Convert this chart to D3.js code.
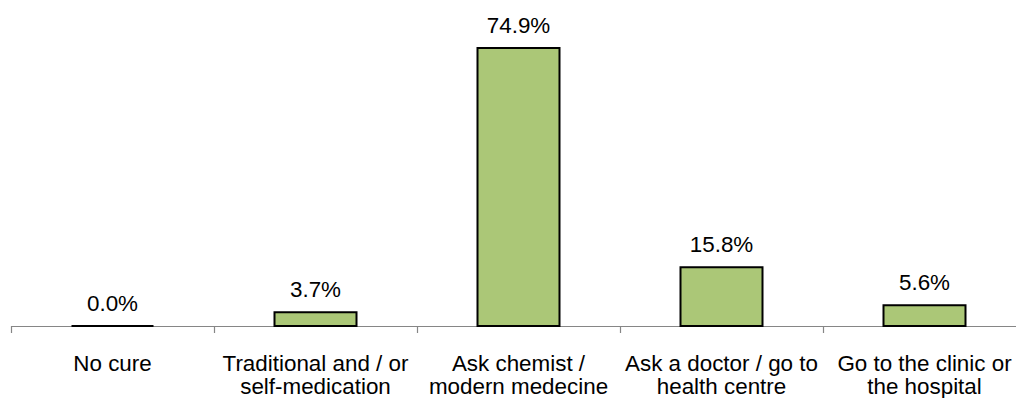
<!DOCTYPE html>
<html>
<head>
<meta charset="utf-8">
<script src="https://cdn.jsdelivr.net/npm/d3@7"></script>
<style>
  html, body { margin: 0; padding: 0; background: #fff; }
  svg { display: block; }
  text { font-family: "Liberation Sans", Arial, sans-serif; fill: #000; }
</style>
</head>
<body>
<svg id="chart" width="1016" height="398"></svg>
<script>
// Treatment choices and share of respondents (%)
const categories = [
  ["No cure"],
  ["Traditional and / or", "self-medication"],
  ["Ask chemist /", "modern medecine"],
  ["Ask a doctor / go to", "health centre"],
  ["Go to the clinic or", "the hospital"]
];
const shares = [0.0, 3.7, 74.9, 15.8, 5.6];
const valueLabels = ["0.0%", "3.7%", "74.9%", "15.8%", "5.6%"];

const svg = d3.select("#chart");
const baseY = 326;
const fontSize = 22.4;

const x = d3.scaleBand()
  .domain(d3.range(categories.length))
  .range([11, 11 + 203 * categories.length])
  .paddingInner(0)
  .paddingOuter(0);

const barW = 82;

const y = d3.scaleLinear()
  .domain([0, 80])
  .range([baseY, baseY - 80 * 3.712]);

// Category axis: baseline with tick marks between categories
const axisG = svg.append("g");
axisG.append("line")
  .attr("x1", x.range()[0]).attr("x2", x.range()[1])
  .attr("y1", baseY + 0.5).attr("y2", baseY + 0.5)
  .attr("stroke", "#868686").attr("stroke-width", 1.2);
const tickXs = d3.range(categories.length + 1).map(i => x.range()[0] + i * x.bandwidth());
axisG.selectAll("line.tick").data(tickXs).join("line")
  .attr("class", "tick")
  .attr("x1", d => d + 0.5).attr("x2", d => d + 0.5)
  .attr("y1", baseY).attr("y2", baseY + 7)
  .attr("stroke", "#868686").attr("stroke-width", 1.2);

// Bars drawn as closed paths so a zero-height bar still shows its outline
svg.append("g").selectAll("path").data(shares).join("path")
  .attr("d", (d, i) => {
    const p = d3.path();
    const x0 = x(i) + (x.bandwidth() - barW) / 2;
    p.rect(x0, y(d), barW, y(0) - y(d));
    return p.toString();
  })
  .attr("fill", "#abc777")
  .attr("stroke", "#000")
  .attr("stroke-width", 2);

// Value labels above each bar
svg.append("g").selectAll("text").data(shares).join("text")
  .attr("x", (d, i) => x(i) + x.bandwidth() / 2)
  .attr("y", d => y(d) - 15)
  .attr("text-anchor", "middle")
  .attr("font-size", fontSize)
  .text((d, i) => valueLabels[i]);

// Category labels (one or two lines)
const catG = svg.append("g").selectAll("text").data(categories).join("text")
  .attr("x", (d, i) => x(i) + x.bandwidth() / 2)
  .attr("y", 371)
  .attr("text-anchor", "middle")
  .attr("font-size", fontSize);
catG.selectAll("tspan").data(d => d).join("tspan")
  .attr("x", function () { return d3.select(this.parentNode).attr("x"); })
  .attr("dy", (d, j) => j === 0 ? 0 : 23)
  .text(d => d);
</script>
</body>
</html>
